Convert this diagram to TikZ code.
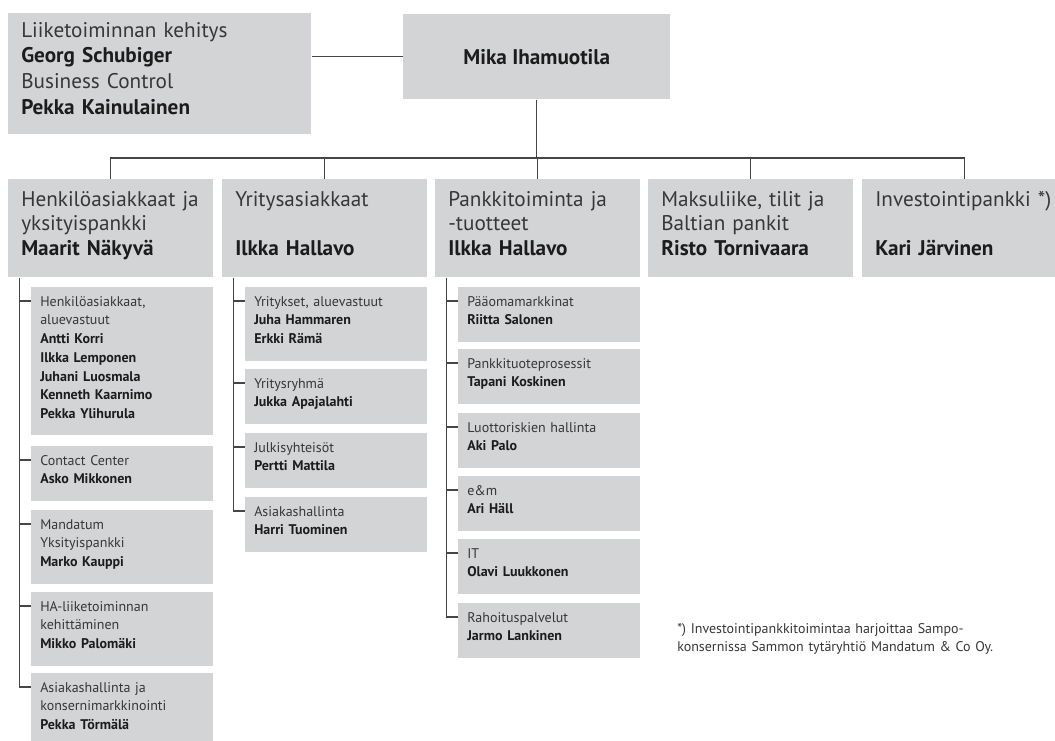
\documentclass[tikz,border=0pt]{standalone}
\usepackage{fontspec}
\setmainfont{PT Sans}
\usetikzlibrary{positioning}
\definecolor{boxgray}{RGB}{211,212,214}
\definecolor{linegray}{RGB}{70,70,70}
\definecolor{textgray}{RGB}{55,55,55}
\definecolor{namegray}{RGB}{28,28,28}
\newcommand{\nm}[1]{{\bfseries\color{namegray}#1}}
\newcommand{\leadfont}{\fontsize{5.3mm}{6.425mm}\selectfont}
\newcommand{\midfont}{\fontsize{5.3mm}{6.125mm}\selectfont}
\newcommand{\subfont}{\fontsize{3.5mm}{4.675mm}\selectfont}
\newcommand{\notefont}{\fontsize{3.5mm}{4.5mm}\selectfont}
\tikzset{
  orgline/.style={draw=linegray, line width=0.32mm},
  boxbase/.style={fill=boxgray, text=textgray, anchor=north west, inner sep=0pt,
    execute at begin node={\raggedright\leftskip=#1\relax}},
  leadbox/.style={boxbase=3.25mm, text width=75.75mm, font=\leadfont,
    text height=6mm, execute at end node={\rule[-5mm]{0pt}{0pt}}},
  ceobox/.style={fill=boxgray, text=namegray, anchor=north west, inner sep=0pt,
    minimum width=66.75mm, minimum height=21.25mm, font=\midfont\bfseries},
  unitbox/.style={boxbase=3.25mm, text width=51.25mm, font=\midfont,
    text height=6.75mm, execute at end node={\rule[-5.5mm]{0pt}{0pt}}},
  subbox/.style={boxbase=2.25mm, text width=45.5mm, font=\subfont,
    text height=4.75mm, execute at end node={\rule[-4.25mm]{0pt}{0pt}}},
  notetext/.style={text=textgray, anchor=base west, inner sep=0pt,
    text width=95mm, align=left, font=\notefont}
}
\begin{document}
\begin{tikzpicture}[x=0.25mm, y=-0.25mm]
  \useasboundingbox (0,0) rectangle (1055,740);
  \clip (0,0) rectangle (1055,740);

  % Drawing top boxes
  \node[leadbox] (kehitys) at (8,13) {Liiketoiminnan kehitys\\\nm{Georg Schubiger}\\Business Control\\\nm{Pekka Kainulainen}};
  \node[ceobox] (ceo) at (403,14) {Mika Ihamuotila};

  % Drawing unit boxes
  \node[unitbox] (henk) at (8,179) {Henkilöasiakkaat ja\\yksityispankki\\\nm{Maarit Näkyvä}};
  \node[unitbox] (yrit) at (222,179) {Yritysasiakkaat\\~\\\nm{Ilkka Hallavo}};
  \node[unitbox] (pank) at (435,179) {Pankkitoiminta ja\\-tuotteet\\\nm{Ilkka Hallavo}};
  \node[unitbox] (maks) at (648,179) {Maksuliike, tilit ja\\Baltian pankit\\\nm{Risto Tornivaara}};
  \node[unitbox] (invp) at (862,179) {Investointipankki *)\\~\\\nm{Kari Järvinen}};

  % Drawing boxes below Henkilöasiakkaat
  \node[subbox] (henkA) at (31,287) {Henkilöasiakkaat,\\aluevastuut\\\nm{Antti Korri}\\\nm{Ilkka Lemponen}\\\nm{Juhani Luosmala}\\\nm{Kenneth Kaarnimo}\\\nm{Pekka Ylihurula}};
  \node[subbox] (henkB) at (31,446) {Contact Center\\\nm{Asko Mikkonen}};
  \node[subbox] (henkC) at (31,510) {Mandatum\\Yksityispankki\\\nm{Marko Kauppi}};
  \node[subbox] (henkD) at (31,592) {HA-liiketoiminnan\\kehittäminen\\\nm{Mikko Palomäki}};
  \node[subbox] (henkE) at (31,673) {Asiakashallinta ja\\konsernimarkkinointi\\\nm{Pekka Törmälä}};

  % Drawing boxes below Yritysasiakkaat
  \node[subbox] (yritA) at (245,287) {Yritykset, aluevastuut\\\nm{Juha Hammaren}\\\nm{Erkki Rämä}};
  \node[subbox] (yritB) at (245,369) {Yritysryhmä\\\nm{Jukka Apajalahti}};
  \node[subbox] (yritC) at (245,433) {Julkisyhteisöt\\\nm{Pertti Mattila}};
  \node[subbox] (yritD) at (245,497) {Asiakashallinta\\\nm{Harri Tuominen}};

  % Drawing boxes below Pankkitoiminta
  \node[subbox] (pankA) at (458,287) {Pääomamarkkinat\\\nm{Riitta Salonen}};
  \node[subbox] (pankB) at (458,349) {Pankkituoteprosessit\\\nm{Tapani Koskinen}};
  \node[subbox] (pankC) at (458,413) {Luottoriskien hallinta\\\nm{Aki Palo}};
  \node[subbox] (pankD) at (458,476) {e\&m\\\nm{Ari Häll}};
  \node[subbox] (pankE) at (458,539) {IT\\\nm{Olavi Luukkonen}};
  \node[subbox] (pankF) at (458,603) {Rahoituspalvelut\\\nm{Jarmo Lankinen}};

  % Marking footnote
  \node[notetext] (note) at (677,633) {*) Investointipankkitoimintaa harjoittaa Sampo-\\konsernissa Sammon tytäryhtiö Mandatum \& Co Oy.};

  % Drawing line kehitys ceo
  \draw[orgline] (kehitys.east |- ceo.west) -- (ceo.west);

  % Drawing bus line
  \coordinate (bus) at (538,158);
  \draw[orgline] (ceo.south) -- (ceo.south |- bus);
  \draw[orgline] (henk.north) |- (bus) -| (invp.north);
  \draw[orgline] (yrit.north) -- (yrit.north |- bus);
  \draw[orgline] (pank.north) -- (pank.north |- bus);
  \draw[orgline] (maks.north) -- (maks.north |- bus);

  % Drawing trunk lines
  \draw[orgline] ([xshift=2.875mm]henk.south west) |- ([yshift=-3.5mm]henkE.north west);
  \draw[orgline] ([xshift=2.875mm]yrit.south west) |- ([yshift=-3.5mm]yritD.north west);
  \draw[orgline] ([xshift=2.875mm]pank.south west) |- ([yshift=-3.5mm]pankF.north west);
  \foreach \b in {henkA,henkB,henkC,henkD,yritA,yritB,yritC,pankA,pankB,pankC,pankD,pankE}
    \draw[orgline] ([yshift=-3.5mm]\b.north west) -- ++(-2.875mm,0);
\end{tikzpicture}
\end{document}
